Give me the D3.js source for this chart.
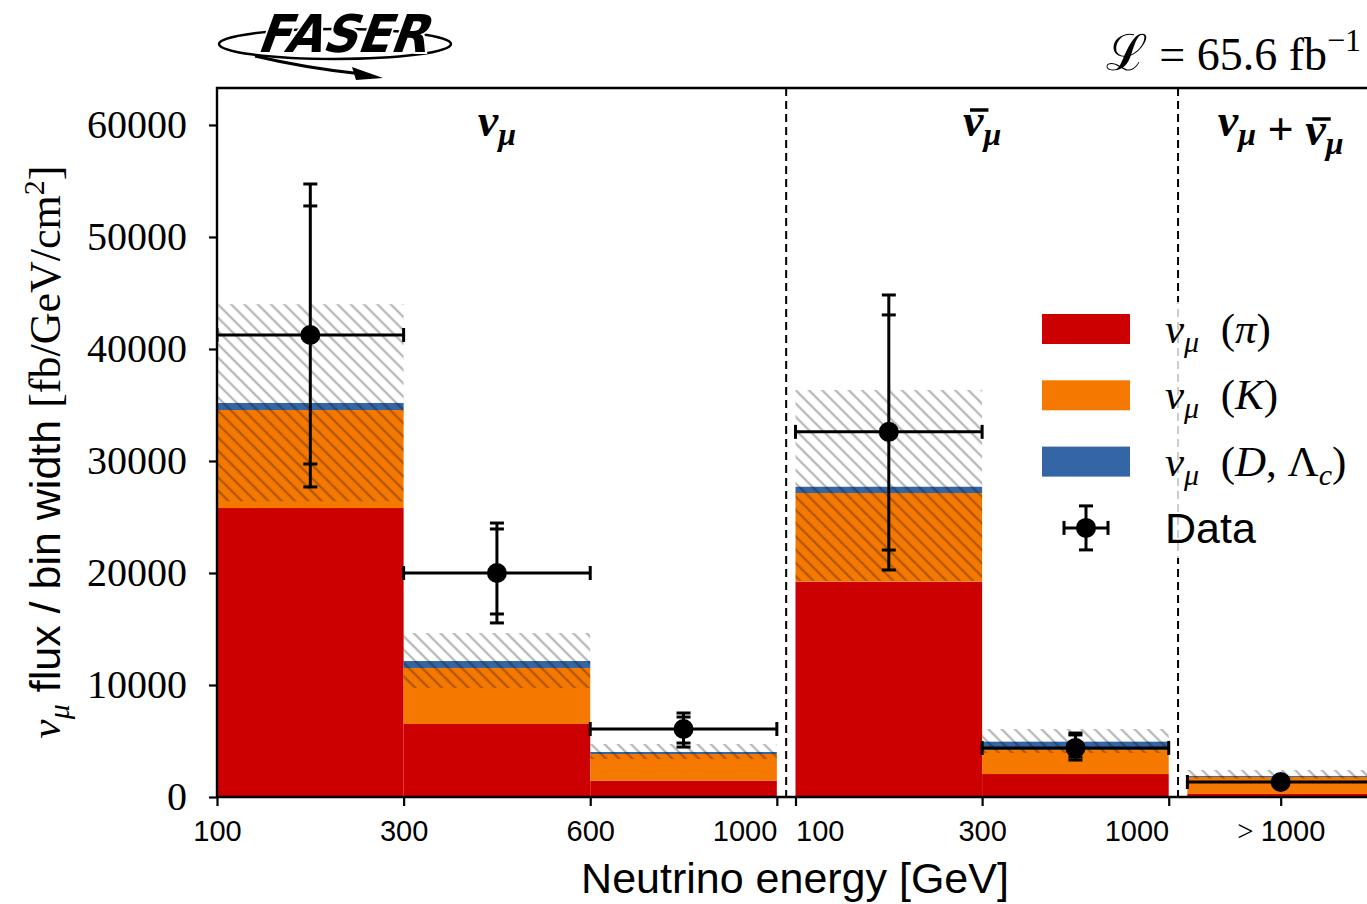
<!DOCTYPE html>
<html>
<head>
<meta charset="utf-8">
<script src="https://cdn.jsdelivr.net/npm/d3@7"></script>
<style>
  body { margin: 0; background: #fff; }
  svg { display: block; }
</style>
</head>
<body>
<div id="chart"></div>
<script>
// bins in plot units: nu_mu (3 bins), gap, nubar_mu (2 bins), gap, combined (1 bin)
const binLo = [0, 1, 2, 3.1, 4.1, 5.2];
const binHi = [1, 2, 3, 4.1, 5.1, 6.2];

// predicted flux components (fb/GeV/cm^2)
const pionFlux  = [25800, 6520, 1460, 19220, 2050, 270];
const kaonFlux  = [8750, 5000, 2380, 7920, 2150, 1520];
const charmFlux = [630, 620, 180, 560, 740, 90];

// prediction uncertainty band
const predLo = [26400, 9730, 3390, 19300, 3930, 1650];
const predHi = [44000, 14640, 4730, 36340, 6070, 2410];

// measured flux with stat (inner) and total (outer) errors
const dataFlux   = [41250, 20000, 6070, 32600, 4380, 1340];
const innerLo    = [29730, 16340, 4820, 22050, 3570, 1000];
const innerHi    = [52770, 23930, 7140, 43040, 5540, 1680];
const outerLo    = [27680, 15540, 4460, 20270, 3300, 900];
const outerHi    = [54730, 24460, 7500, 44820, 5710, 1780];

const tickPos    = [0, 1, 2, 3, 3.1, 4.1, 5.1, 5.7];
const tickLabels = ['100', '300', '600', '1000', '100', '300', '1000', '> 1000'];
const yTicks     = [0, 10000, 20000, 30000, 40000, 50000, 60000];

const separators  = [3.05, 5.15];
const groupCenter = [1.5, 4.1, 5.7];

const colors = { pi: '#cc0000', k: '#f57900', charm: '#3465a4' };

const W = 1367, H = 904;
const x = d3.scaleLinear().domain([0, 6.2]).range([217, 1374]);
const y = d3.scaleLinear().domain([0, 63300]).range([797, 88]);

const svg = d3.select('#chart').append('svg')
    .attr('width', W)
    .attr('height', H);

const serif = "'Liberation Serif', 'DejaVu Serif', serif";
const sans = "'Liberation Sans', Arial, sans-serif";

// hatch pattern for the prediction uncertainty
const defs = svg.append('defs');
defs.append('pattern')
    .attr('id', 'hatch')
    .attr('patternUnits', 'userSpaceOnUse')
    .attr('width', 9.4)
    .attr('height', 9.4)
    .attr('patternTransform', 'rotate(-45)')
    .append('line')
    .attr('x1', 4.7).attr('x2', 4.7)
    .attr('y1', -1).attr('y2', 11)
    .attr('stroke', '#000')
    .attr('stroke-opacity', 0.28)
    .attr('stroke-width', 2.3);

defs.append('clipPath').attr('id', 'plot-clip')
    .append('rect')
    .attr('x', 217).attr('y', 88)
    .attr('width', 1374 - 217).attr('height', 797 - 88);

const plot = svg.append('g').attr('clip-path', 'url(#plot-clip)');

const bins = d3.range(binLo.length);

// stacked components
const stacks = [
    { lo: i => 0, hi: i => pionFlux[i], color: colors.pi },
    { lo: i => pionFlux[i], hi: i => pionFlux[i] + kaonFlux[i], color: colors.k },
    { lo: i => pionFlux[i] + kaonFlux[i], hi: i => pionFlux[i] + kaonFlux[i] + charmFlux[i], color: colors.charm }
];

stacks.forEach(s => {
    plot.append('g')
        .selectAll('rect')
        .data(bins)
        .join('rect')
        .attr('x', i => x(binLo[i]))
        .attr('width', i => x(binHi[i]) - x(binLo[i]))
        .attr('y', i => y(s.hi(i)))
        .attr('height', i => y(s.lo(i)) - y(s.hi(i)))
        .attr('fill', s.color);
});

// uncertainty band
plot.append('g')
    .selectAll('rect')
    .data(bins)
    .join('rect')
    .attr('x', i => x(binLo[i]))
    .attr('width', i => x(binHi[i]) - x(binLo[i]))
    .attr('y', i => y(predHi[i]))
    .attr('height', i => y(predLo[i]) - y(predHi[i]))
    .attr('fill', 'url(#hatch)');

// separators between the neutrino / antineutrino groups
plot.selectAll('line.sep')
    .data(separators)
    .join('line')
    .attr('class', 'sep')
    .attr('x1', d => x(d)).attr('x2', d => x(d))
    .attr('y1', 88).attr('y2', 797)
    .attr('stroke', '#000')
    .attr('stroke-width', 2)
    .attr('stroke-dasharray', '8,5');

// data points with error bars
const cap = 7;
const eb = plot.append('g')
    .selectAll('g')
    .data(bins)
    .join('g')
    .attr('stroke', '#000')
    .attr('stroke-width', 3);

eb.append('line')
    .attr('x1', i => x((binLo[i] + binHi[i]) / 2))
    .attr('x2', i => x((binLo[i] + binHi[i]) / 2))
    .attr('y1', i => y(outerLo[i]))
    .attr('y2', i => y(outerHi[i]));

eb.append('line')
    .attr('x1', i => x(binLo[i]))
    .attr('x2', i => x(binHi[i]))
    .attr('y1', i => y(dataFlux[i]))
    .attr('y2', i => y(dataFlux[i]));

[innerLo, innerHi, outerLo, outerHi].forEach(arr => {
    eb.append('line')
        .attr('x1', i => x((binLo[i] + binHi[i]) / 2) - cap)
        .attr('x2', i => x((binLo[i] + binHi[i]) / 2) + cap)
        .attr('y1', i => y(arr[i]))
        .attr('y2', i => y(arr[i]));
});

[binLo, binHi].forEach(arr => {
    eb.append('line')
        .attr('x1', i => x(arr[i]))
        .attr('x2', i => x(arr[i]))
        .attr('y1', i => y(dataFlux[i]) - cap)
        .attr('y2', i => y(dataFlux[i]) + cap);
});

eb.append('circle')
    .attr('cx', i => x((binLo[i] + binHi[i]) / 2))
    .attr('cy', i => y(dataFlux[i]))
    .attr('r', 10)
    .attr('fill', '#000')
    .attr('stroke', 'none');

// spines
const spine = svg.append('g').attr('stroke', '#000').attr('stroke-width', 2.4);
spine.append('line').attr('x1', 217).attr('x2', 217).attr('y1', 87).attr('y2', 798);
spine.append('line').attr('x1', 216).attr('x2', 1374).attr('y1', 88).attr('y2', 88);
spine.append('line').attr('x1', 216).attr('x2', 1374).attr('y1', 797).attr('y2', 797);

// x axis
const xAxis = svg.append('g')
    .attr('transform', 'translate(0,797)')
    .call(d3.axisBottom(x)
        .tickValues(tickPos)
        .tickSize(9)
        .tickPadding(14)
        .tickFormat((d, i) => tickLabels[i]));
xAxis.select('.domain').remove();
xAxis.selectAll('.tick line').attr('stroke-width', 2.2);
xAxis.selectAll('.tick text')
    .attr('font-family', sans)
    .attr('font-size', 29)
    .attr('fill', '#000')
    .attr('text-anchor', d => {
        const isHi = binHi.includes(d), isLo = binLo.includes(d);
        if (isHi && !isLo) return 'end';
        if (isLo && !isHi && d !== binLo[0]) return 'start';
        return 'middle';
    })
    .each(function(d, i) {
        if (tickLabels[i].startsWith('>')) {
            const t = d3.select(this).text(null);
            t.append('tspan').attr('font-family', serif).text('> ');
            t.append('tspan').text(tickLabels[i].slice(2));
        }
    });

// y axis
const yAxis = svg.append('g')
    .attr('transform', 'translate(217,0)')
    .call(d3.axisLeft(y)
        .tickValues(yTicks)
        .tickSize(8)
        .tickPadding(22)
        .tickFormat(d3.format('d')));
yAxis.select('.domain').remove();
yAxis.selectAll('.tick line').attr('stroke-width', 2.2);
yAxis.selectAll('.tick text')
    .attr('font-family', serif)
    .attr('font-size', 40)
    .attr('fill', '#000');

// axis titles
svg.append('text')
    .attr('x', 795)
    .attr('y', 893)
    .attr('text-anchor', 'middle')
    .attr('font-family', sans)
    .attr('font-size', 43)
    .text('Neutrino energy [GeV]');

const yl = svg.append('text')
    .attr('transform', 'translate(60,452) rotate(-90)')
    .attr('text-anchor', 'middle')
    .attr('font-size', 43);
yl.append('tspan').attr('font-family', serif).attr('font-style', 'italic').text('ν');
yl.append('tspan').attr('font-family', serif).attr('font-style', 'italic').attr('font-size', 30).attr('dy', 9).text('μ');
yl.append('tspan').attr('font-family', sans).attr('dy', -9).text(' flux / bin width ');
yl.append('tspan').attr('font-family', serif).attr('font-size', 44).text('[fb/GeV/cm');
yl.append('tspan').attr('font-family', serif).attr('font-size', 30).attr('dy', -16).text('2');
yl.append('tspan').attr('font-family', serif).attr('font-size', 44).attr('dy', 16).text(']');

// group labels
const groupText = svg.append('g')
    .selectAll('text')
    .data(groupCenter)
    .join('text')
    .attr('x', d => x(d))
    .attr('y', 136)
    .attr('text-anchor', 'middle')
    .attr('font-family', serif)
    .attr('font-weight', 'bold')
    .attr('font-style', 'italic')
    .attr('font-size', 46);

function boldNu(t, bar) {
    t.append('tspan').attr('class', bar ? 'nubar' : null).text('ν');
    t.append('tspan').attr('font-size', 32).attr('dy', 9).text('μ');
    t.append('tspan').attr('dy', -9).text('');
}
groupText.each(function(d, i) {
    const t = d3.select(this);
    if (i === 0) boldNu(t, false);
    if (i === 1) boldNu(t, true);
    if (i === 2) {
        boldNu(t, false);
        t.append('tspan').attr('font-style', 'normal').text(' + ');
        boldNu(t, true);
    }
});

// macron over the antineutrino symbols
svg.selectAll('tspan.nubar').each(function() {
    const s = this.getStartPositionOfChar(0);
    const e = this.getEndPositionOfChar(0);
    svg.append('line')
        .attr('x1', s.x + 7).attr('x2', e.x + 5)
        .attr('y1', s.y - 26).attr('y2', s.y - 26)
        .attr('stroke', '#000')
        .attr('stroke-width', 3.5);
});

// luminosity
const lumi = svg.append('text')
    .attr('x', 1361)
    .attr('y', 70)
    .attr('text-anchor', 'end')
    .attr('font-family', serif)
    .attr('font-size', 46);
lumi.append('tspan').attr('font-size', 50).text('ℒ');
lumi.append('tspan').text('\u2005=\u200565.6\u2005fb');
lumi.append('tspan').attr('font-size', 32).attr('dy', -19).text('−1');

// legend
const legendNames = ['π', 'K', 'D'];
const legend = svg.append('g');
legend.append('rect')
    .attr('x', 1030).attr('y', 302)
    .attr('width', 330).attr('height', 256)
    .attr('fill', '#fff')
    .attr('fill-opacity', 0.8);

const legendColors = [colors.pi, colors.k, colors.charm];
const rowY = i => 329 + i * 66.3;

legendColors.forEach((c, i) => {
    legend.append('rect')
        .attr('x', 1042).attr('y', rowY(i) - 15)
        .attr('width', 88).attr('height', 30)
        .attr('fill', c);
    const t = legend.append('text')
        .attr('x', 1165).attr('y', rowY(i) + 14)
        .attr('font-family', serif)
        .attr('font-size', 43);
    t.append('tspan').attr('font-style', 'italic').text('ν');
    t.append('tspan').attr('font-style', 'italic').attr('font-size', 30).attr('dy', 9).text('μ');
    t.append('tspan').attr('dy', -9).text('\u2002(');
    t.append('tspan').attr('font-style', 'italic').text(legendNames[i]);
    if (i === 2) {
        t.append('tspan').text(', Λ');
        t.append('tspan').attr('font-style', 'italic').attr('font-size', 30).attr('dy', 9).text('c');
        t.append('tspan').attr('dy', -9).text(')');
    } else {
        t.append('tspan').text(')');
    }
});

const lg = legend.append('g').attr('stroke', '#000').attr('stroke-width', 3);
const ly = rowY(3), lx = 1086;
lg.append('line').attr('x1', lx - 22).attr('x2', lx + 22).attr('y1', ly).attr('y2', ly);
lg.append('line').attr('x1', lx).attr('x2', lx).attr('y1', ly - 22).attr('y2', ly + 22);
lg.append('line').attr('x1', lx - 22).attr('x2', lx - 22).attr('y1', ly - cap).attr('y2', ly + cap);
lg.append('line').attr('x1', lx + 22).attr('x2', lx + 22).attr('y1', ly - cap).attr('y2', ly + cap);
lg.append('line').attr('x1', lx - cap).attr('x2', lx + cap).attr('y1', ly - 22).attr('y2', ly - 22);
lg.append('line').attr('x1', lx - cap).attr('x2', lx + cap).attr('y1', ly + 22).attr('y2', ly + 22);
lg.append('circle').attr('cx', lx).attr('cy', ly).attr('r', 10).attr('fill', '#000').attr('stroke', 'none');
legend.append('text')
    .attr('x', 1165).attr('y', ly + 15)
    .attr('font-family', sans)
    .attr('font-size', 43)
    .text('Data');

// FASER logo
const logo = svg.append('g');
logo.append('ellipse')
    .attr('cx', 335).attr('cy', 44)
    .attr('rx', 116).attr('ry', 15)
    .attr('fill', 'none')
    .attr('stroke', '#000')
    .attr('stroke-width', 2.5);
logo.append('path')
    .attr('d', 'M 255 56 Q 305 68 362 74')
    .attr('fill', 'none')
    .attr('stroke', '#000')
    .attr('stroke-width', 3);
logo.append('polygon')
    .attr('points', '383,78 352,67 356,80')
    .attr('fill', '#000');
logo.append('text')
    .attr('transform', 'translate(256,52) skewX(-20)')
    .attr('font-family', "'DejaVu Sans', sans-serif")
    .attr('font-weight', 'bold')
    .attr('font-size', 52)
    .attr('textLength', 170)
    .attr('lengthAdjust', 'spacingAndGlyphs')
    .attr('fill', '#000')
    .attr('stroke', '#fff')
    .attr('stroke-width', 4)
    .attr('paint-order', 'stroke')
    .text('FASER');
</script>
</body>
</html>
